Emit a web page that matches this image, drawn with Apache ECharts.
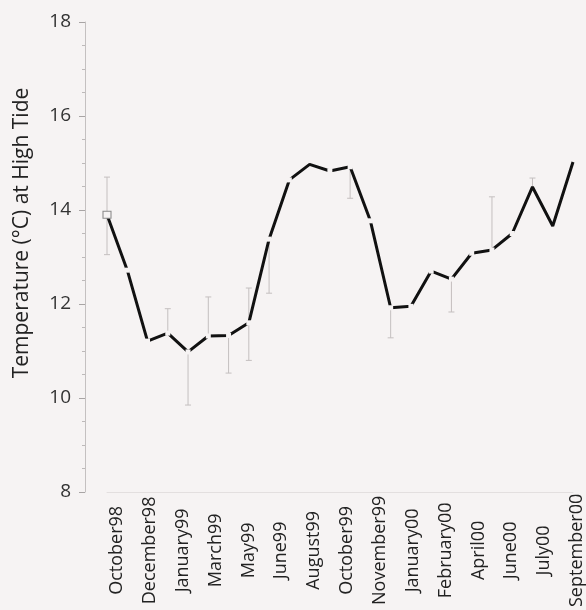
<!DOCTYPE html>
<html>
<head>
<meta charset="utf-8">
<script src="https://cdn.jsdelivr.net/npm/echarts@6/dist/echarts.min.js"></script>
<style>
  html, body { margin: 0; padding: 0; background: #f6f3f3; }
  #chart { width: 586px; height: 610px; }
</style>
</head>
<body>
<div id="chart"></div>
<script>
// Monthly sampling dates, October 1998 to September 2000
const months = [
  'Oct 1998', 'Nov 1998', 'Dec 1998', 'Jan 1999', 'Feb 1999', 'Mar 1999',
  'Apr 1999', 'May 1999', 'Jun 1999', 'Jul 1999', 'Aug 1999', 'Sep 1999',
  'Oct 1999', 'Nov 1999', 'Dec 1999', 'Jan 2000', 'Feb 2000', 'Mar 2000',
  'Apr 2000', 'May 2000', 'Jun 2000', 'Jul 2000', 'Aug 2000', 'Sep 2000'
];

// Mean water temperature at high tide (°C)
const temps = [
  13.9, 12.72, 11.21, 11.38, 10.98, 11.32, 11.33, 11.6, 13.38, 14.64, 14.97, 14.83,
  14.92, 13.77, 11.92, 11.95, 12.7, 12.53, 13.08, 13.15, 13.5, 14.49, 13.66, 15.02
];

// Error bar limits (null where no bar is drawn on that side)
const errLow = [
  13.05, null, null, null, 9.85, null, 10.53, 10.8, 12.23, null, null, null,
  14.25, null, 11.28, null, null, 11.83, null, null, null, null, null, null
];
const errHigh = [
  14.7, null, null, 11.9, null, 12.15, null, 12.34, null, null, null, null,
  null, null, null, null, null, null, null, 14.28, null, 14.68, null, null
];

// Axis tick labels along the bottom
const axisLabels = [
  'October98', 'December98', 'January99', 'March99', 'May99', 'June99',
  'August99', 'October99', 'November99', 'January00', 'February00', 'April00',
  'June00', 'July00', 'September00'
];

const yTicks = { min: 8, max: 18, step: 2 };

const BG = '#f6f3f3';
const FONT = '"Open Sans", "DejaVu Sans", sans-serif';

// vertices drawn without a break in the line
const continuousAt = new Set([10, 21, 22, 23]);

const lineData = temps.map((v, i) => {
  if (i === 0) {
    return { value: v, symbol: 'rect', symbolSize: [8, 7],
      itemStyle: { color: BG, borderColor: '#8a8a8a', borderWidth: 1 } };
  }
  if (continuousAt.has(i)) return { value: v, symbol: 'none' };
  return { value: v };
});

const errData = temps.map((v, i) => [
  i,
  errLow[i] == null ? v : errLow[i],
  errHigh[i] == null ? v : errHigh[i],
  errLow[i] != null ? 1 : 0,
  errHigh[i] != null ? 1 : 0
]);

const chart = echarts.init(document.getElementById('chart'), null, { renderer: 'canvas' });

chart.setOption({
  backgroundColor: BG,
  animation: false,
  grid: [
    { left: 107, right: 13, top: 22, bottom: 118 },
    { left: 117, right: 9, top: 22, bottom: 118 }
  ],
  xAxis: [
    {
      type: 'category', gridIndex: 0, data: months, boundaryGap: false,
      axisLine: { show: true, lineStyle: { color: '#e3dfdf', width: 1 } },
      axisTick: { show: false }, axisLabel: { show: false }, splitLine: { show: false }
    },
    {
      type: 'category', gridIndex: 1, data: axisLabels, boundaryGap: false,
      axisLine: { show: false }, axisTick: { show: false }, splitLine: { show: false },
      axisLabel: {
        rotate: 90, interval: 0, margin: 63,
        align: 'center', verticalAlign: 'middle',
        fontFamily: FONT, fontSize: 18, color: '#222'
      }
    }
  ],
  yAxis: [
    {
      type: 'value', gridIndex: 0, min: yTicks.min, max: yTicks.max, interval: yTicks.step,
      offset: 22,
      axisLine: { show: true, lineStyle: { color: '#c4c0c0', width: 1 } },
      axisTick: { show: true, length: 6, lineStyle: { color: '#a8a4a4' } },
      minorTick: { show: true, splitNumber: 4, length: 3, lineStyle: { color: '#bdb9b9' } },
      splitLine: { show: false },
      axisLabel: { margin: 14, fontFamily: FONT, fontSize: 19, color: '#333' }
    },
    {
      type: 'value', gridIndex: 1, min: 0, max: 1, show: false
    }
  ],
  graphic: [
    {
      type: 'text', x: 22, y: 233, rotation: Math.PI / 2,
      style: {
        text: 'Temperature (°C) at High Tide',
        fontFamily: FONT, fontSize: 21, fill: '#222',
        textAlign: 'center', textVerticalAlign: 'middle'
      }
    }
  ],
  series: [
    {
      type: 'custom', xAxisIndex: 0, yAxisIndex: 0, data: errData, z: 1,
      renderItem: function (params, api) {
        const x = api.coord([api.value(0), api.value(1)])[0];
        const yLo = api.coord([api.value(0), api.value(1)])[1];
        const yHi = api.coord([api.value(0), api.value(2)])[1];
        const style = { stroke: '#c4bfbf', lineWidth: 1 };
        const children = [];
        if (yLo !== yHi) {
          children.push({ type: 'line', shape: { x1: x, y1: yLo, x2: x, y2: yHi }, style });
        }
        if (api.value(3)) {
          children.push({ type: 'line', shape: { x1: x - 3, y1: yLo, x2: x + 3, y2: yLo }, style });
        }
        if (api.value(4)) {
          children.push({ type: 'line', shape: { x1: x - 3, y1: yHi, x2: x + 3, y2: yHi }, style });
        }
        return { type: 'group', children };
      }
    },
    {
      type: 'line', xAxisIndex: 0, yAxisIndex: 0, data: lineData, z: 3,
      symbol: 'rect', symbolSize: 5,
      itemStyle: { color: BG, borderWidth: 0 },
      lineStyle: { color: '#111', width: 3 }
    }
  ]
});
</script>
</body>
</html>
